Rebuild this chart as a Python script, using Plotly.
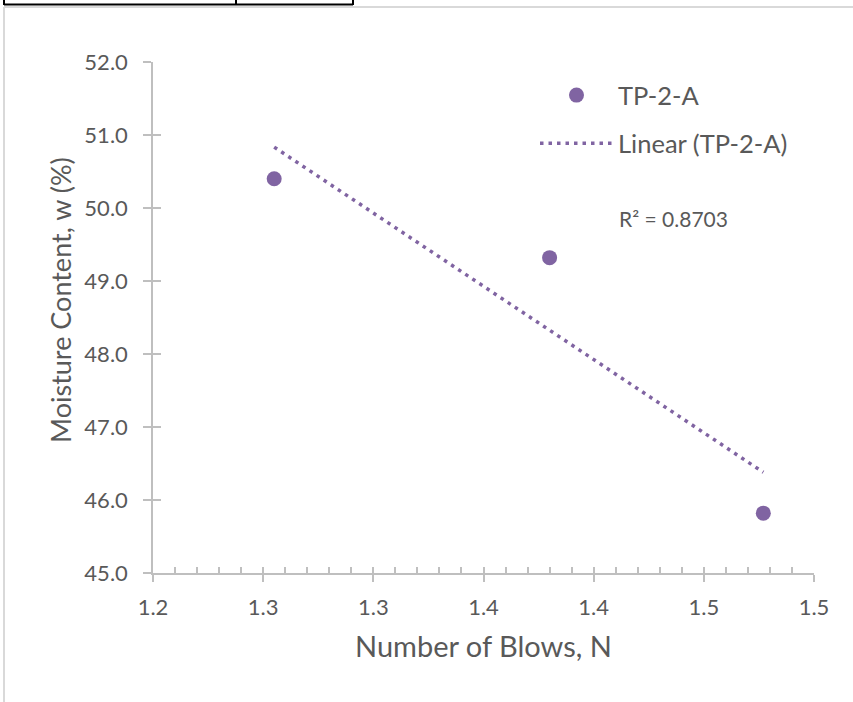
import plotly.graph_objects as go
import numpy as np

# ---- data ----
blows_log = [1.255, 1.380, 1.477]
moisture = [50.40, 49.32, 45.82]
series_name = "TP-2-A"
trend_name = "Linear (TP-2-A)"
r2_label = "R² = 0.8703"
x_title = "Number of Blows, N"
y_title = "Moisture Content, w (%)"
x_tickvals = [1.20, 1.25, 1.30, 1.35, 1.40, 1.45, 1.50]
x_ticktext = ["1.2", "1.3", "1.3", "1.4", "1.4", "1.5", "1.5"]
y_tickvals = [45, 46, 47, 48, 49, 50, 51, 52]
y_ticktext = ["45.0", "46.0", "47.0", "48.0", "49.0", "50.0", "51.0", "52.0"]

# linear trendline (least squares fit of the data)
slope, intercept = np.polyfit(blows_log, moisture, 1)
trend_x = [min(blows_log), max(blows_log)]
trend_y = [slope * v + intercept for v in trend_x]

W, H = 853, 702
L, R, T, B = 153, 814, 62, 573
PURPLE = "#8064A2"
GREY_TXT = "#595959"
AXIS = "#BFBFBF"
FONT = "Lato"

def px(xp):
    return (xp - L) / (R - L)

def py(yp):
    return (B - yp) / (B - T)

fig = go.Figure()
fig.add_trace(go.Scatter(
    x=blows_log, y=moisture, mode="markers", name=series_name,
    marker=dict(color=PURPLE, size=15, line=dict(width=0)),
    legendgroup="a",
))
fig.add_trace(go.Scatter(
    x=trend_x, y=trend_y, mode="lines", name=trend_name,
    line=dict(color=PURPLE, width=3.5, dash="3.5px,5px"),
    legendgroup="b",
))
# invisible trace on overlay axes for inside (crossing) ticks
fig.add_trace(go.Scatter(x=[1.2, 1.5], y=[45, 52], xaxis="x2", yaxis="y2",
                         mode="markers", marker=dict(opacity=0),
                         showlegend=False, hoverinfo="skip"))

fig.update_layout(
    width=W, height=H,
    margin=dict(l=L, r=W - R, t=T, b=H - B, pad=0),
    plot_bgcolor="white", paper_bgcolor="white",
    font=dict(family=FONT, color=GREY_TXT),
    showlegend=True,
    legend=dict(
        x=px(535), y=py(72), xanchor="left", yanchor="top",
        font=dict(size=25.5, color=GREY_TXT, family=FONT),
        itemwidth=73, tracegroupgap=12, traceorder="grouped",
        bgcolor="rgba(0,0,0,0)",
    ),
    xaxis=dict(
        range=[1.2, 1.5], tickvals=x_tickvals, ticktext=x_ticktext,
        showgrid=False, zeroline=False,
        showline=True, linecolor=AXIS, linewidth=1.5,
        ticks="outside", ticklen=7, tickcolor=AXIS, tickwidth=1.5,
        tickfont=dict(size=22, color=GREY_TXT, family=FONT),
        ticklabelstandoff=7,
    ),
    yaxis=dict(
        range=[45, 52], tickvals=y_tickvals, ticktext=y_ticktext,
        showgrid=False, zeroline=False,
        showline=True, linecolor=AXIS, linewidth=1.5,
        ticks="outside", ticklen=8, tickcolor=AXIS, tickwidth=1.5,
        tickfont=dict(size=22, color=GREY_TXT, family=FONT),
        ticklabelstandoff=11,
    ),
    xaxis2=dict(
        overlaying="x", matches="x", range=[1.2, 1.5], dtick=0.01, tick0=1.2,
        ticks="inside", ticklen=6, tickcolor=AXIS, tickwidth=1.5,
        showticklabels=False, showgrid=False, zeroline=False, showline=False,
    ),
    yaxis2=dict(
        overlaying="y", matches="y", range=[45, 52], dtick=1, tick0=45,
        ticks="inside", ticklen=8, tickcolor=AXIS, tickwidth=1.5,
        showticklabels=False, showgrid=False, zeroline=False, showline=False,
    ),
    annotations=[
        dict(text=r2_label, xref="paper", yref="paper", x=px(617), y=py(218),
             xanchor="left", yanchor="middle", showarrow=False,
             font=dict(size=21, color=GREY_TXT, family=FONT)),
        dict(text=x_title, xref="paper", yref="paper", x=px(483), y=py(645),
             xanchor="center", yanchor="middle", showarrow=False,
             font=dict(size=29, color=GREY_TXT, family=FONT)),
        dict(text=y_title, xref="paper", yref="paper", x=px(60), y=py(300),
             xanchor="center", yanchor="middle", showarrow=False, textangle=-90,
             font=dict(size=27, color=GREY_TXT, family=FONT)),
    ],
    shapes=[
        # light grey chart frame (left and top)
        dict(type="line", xref="paper", yref="paper", x0=px(4), x1=px(4), y0=py(7), y1=py(702),
             line=dict(color="#D9D9D9", width=2)),
        dict(type="line", xref="paper", yref="paper", x0=px(4), x1=px(853), y0=py(7), y1=py(7),
             line=dict(color="#D9D9D9", width=2)),
        # table cells fragment above the chart
        dict(type="line", xref="paper", yref="paper", x0=px(4), x1=px(353), y0=py(4.5), y1=py(4.5),
             line=dict(color="black", width=2)),
        dict(type="line", xref="paper", yref="paper", x0=px(4), x1=px(4), y0=py(-2), y1=py(5),
             line=dict(color="black", width=2)),
        dict(type="line", xref="paper", yref="paper", x0=px(236), x1=px(236), y0=py(-2), y1=py(5),
             line=dict(color="black", width=2)),
        dict(type="line", xref="paper", yref="paper", x0=px(353), x1=px(353), y0=py(-2), y1=py(5),
             line=dict(color="black", width=2)),
    ],
)

fig.write_html("out.html", config={"displayModeBar": False},
               post_script="document.body.style.margin='0';")
